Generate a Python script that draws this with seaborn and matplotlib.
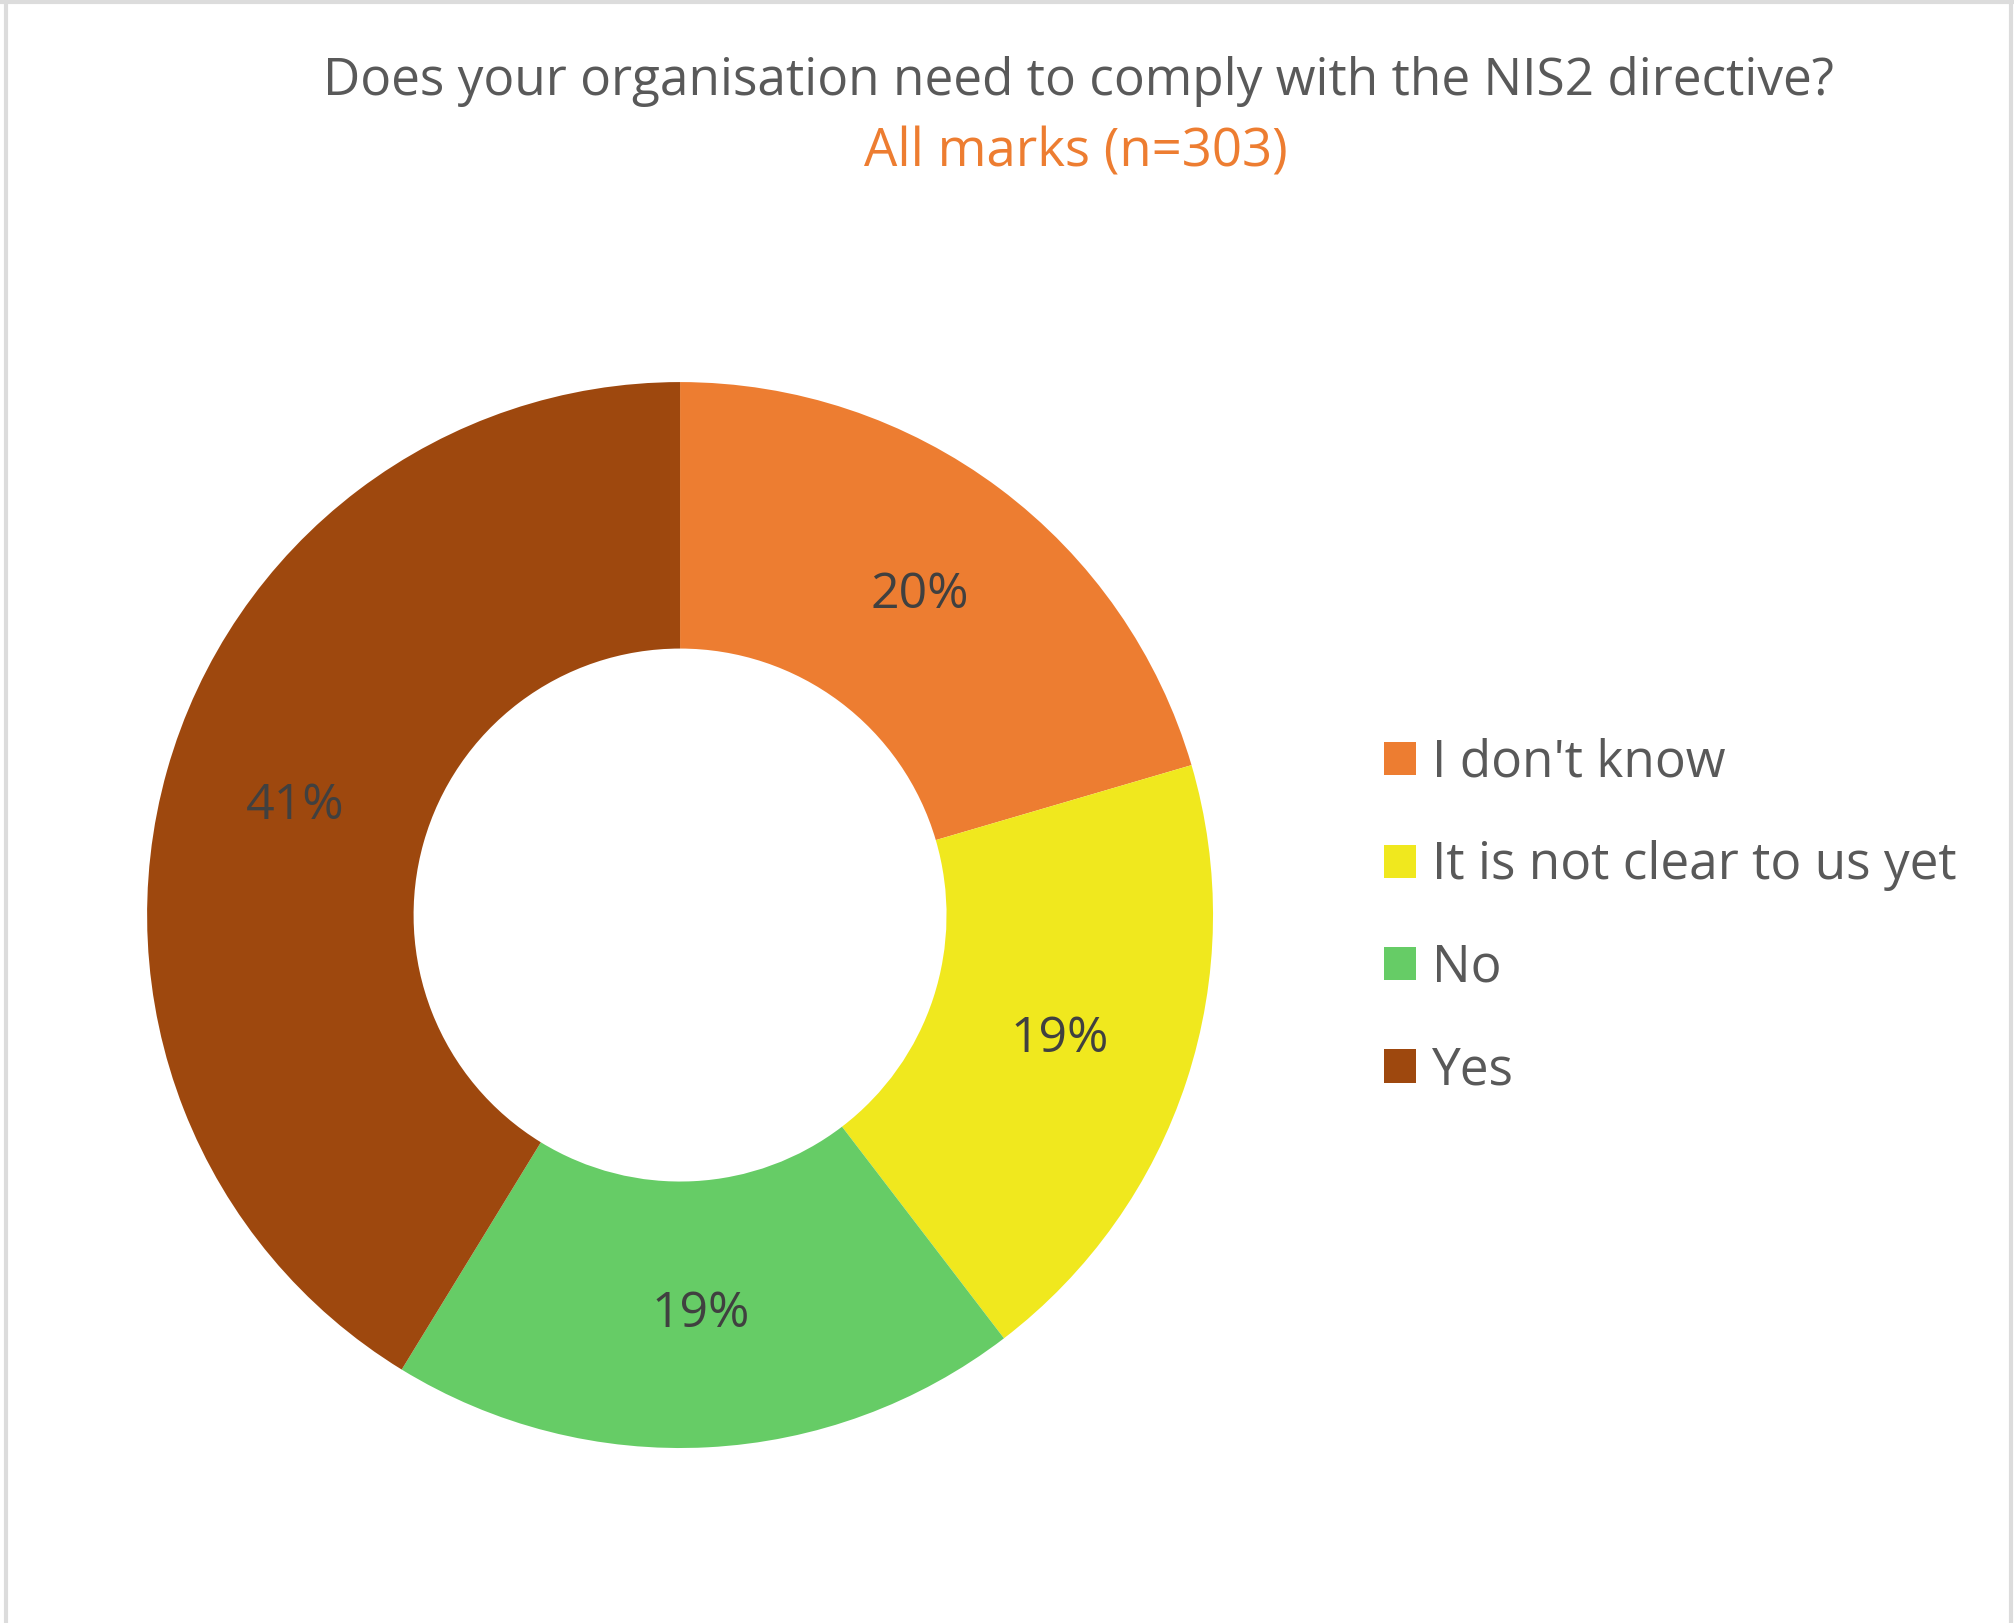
import numpy as np
import matplotlib.pyplot as plt
import seaborn as sns
from matplotlib.patches import Patch
from matplotlib.lines import Line2D

# Survey answers (n=303)
answers = ["I don't know", "It is not clear to us yet", "No", "Yes"]
counts = [62, 58, 58, 125]
colors = ["#ED7D31", "#F0E81E", "#66CC66", "#9E480E"]

title = "Does your organisation need to comply with the NIS2 directive?"
subtitle = "All marks (n=303)"

sns.set_theme(style="white")
plt.rcParams['font.family'] = ['Open Sans', 'DejaVu Sans']

fig = plt.figure(figsize=(20.15, 16.23), dpi=100)
fig.patch.set_facecolor("white")

# Donut
ax = fig.add_axes([0.0730, 0.1078, 0.529, 0.6568])
wedges, texts, autotexts = ax.pie(
    counts, colors=colors, startangle=90, counterclock=False,
    autopct=lambda p: f"{p:.0f}%", pctdistance=0.75, radius=1,
    wedgeprops=dict(width=0.5, linewidth=0),
    textprops=dict(fontsize=36, color="#404040"))
ax.set_xlim(-1, 1)
ax.set_ylim(-1, 1)
ax.set_aspect("equal")
ax.axis("off")

# Titles
fig.text(0.535, 0.950, title, ha="center", va="center", fontsize=37, color="#595959")
fig.text(0.534, 0.906, subtitle, ha="center", va="center", fontsize=38, color="#ED7D31")

# Legend
handles = [Patch(facecolor=c, edgecolor="none") for c in colors]
fig.legend(handles, answers, loc="center left", bbox_to_anchor=(0.687, 0.435),
           frameon=False, fontsize=37, labelcolor="#595959",
           handlelength=0.62, handleheight=0.62, handletextpad=0.31,
           labelspacing=1.0, borderpad=0, borderaxespad=0)

# Faint frame around the picture
for xs, ys in [([0, 1], [0.999, 0.999]), ([0.003, 0.003], [0, 1]), ([0.998, 0.998], [0, 1])]:
    fig.add_artist(Line2D(xs, ys, transform=fig.transFigure, color="#dcdcdc", linewidth=3))

fig.savefig("out.png", dpi=100, facecolor="white")
